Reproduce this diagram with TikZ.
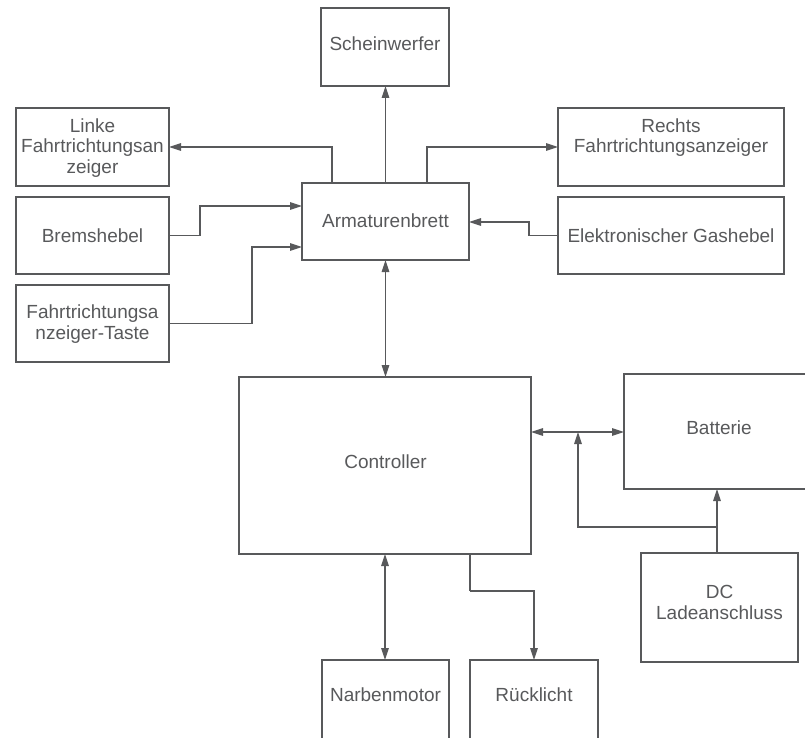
\documentclass[tikz,border=0pt]{standalone}
\usepackage{fontspec}
\setmainfont{Liberation Sans}
\usetikzlibrary{arrows.meta}
\definecolor{ink}{HTML}{58595B}
\tikzset{
  box/.style={draw=ink, line width=1.3pt, anchor=north west, inner sep=0pt, outer sep=0pt},
  lbl/.style={text=ink, align=center, inner sep=0pt, font=\fontsize{19}{20.5}\selectfont},
  conn/.style={draw=ink, line width=1.3pt},
  tip/.style={-{Triangle[length=12pt,width=7.5pt]}},
  tips/.style={{Triangle[length=12pt,width=7.5pt]}-{Triangle[length=12pt,width=7.5pt]}}
}
\begin{document}
\begin{tikzpicture}[x=1pt,y=-1pt]
\useasboundingbox (0,0) rectangle (805,738);
\clip (0,0) rectangle (805,738);
% boxes
\node[box, minimum width=128pt, minimum height=78pt] (schein) at (321,8) {};
\node[box, minimum width=167pt, minimum height=77pt] (arma) at (302,183) {};
\node[box, minimum width=153pt, minimum height=78pt] (linke) at (16,108) {};
\node[box, minimum width=153pt, minimum height=77pt] (brems) at (16,197) {};
\node[box, minimum width=153pt, minimum height=77pt] (taste) at (16,285) {};
\node[box, minimum width=226pt, minimum height=78pt] (rechts) at (558,108) {};
\node[box, minimum width=226pt, minimum height=77pt] (gas) at (558,197) {};
\node[box, minimum width=292pt, minimum height=177pt] (ctrl) at (239,377) {};
\node[box, minimum width=190pt, minimum height=115pt] (batt) at (624,374) {};
\node[box, minimum width=157pt, minimum height=109pt] (dc) at (641,553) {};
\node[box, minimum width=127pt, minimum height=110pt] (narb) at (322,660) {};
\node[box, minimum width=128pt, minimum height=110pt] (rueck) at (470,660) {};
% labels
\node[lbl] (schein-t) at (385,44) {Scheinwerfer};
\node[lbl] (arma-t) at (385.5,221) {Armaturenbrett};
\node[lbl] (linke-t) at (92.5,148) {Linke\\Fahrtrichtungsan\\zeiger};
\node[lbl] (brems-t) at (92.5,236) {Bremshebel};
\node[lbl] (taste-t) at (92.5,324) {Fahrtrichtungsa\\nzeiger-Taste};
\node[lbl] (rechts-t) at (671,137.5) {Rechts\\Fahrtrichtungsanzeiger};
\node[lbl] (gas-t) at (671,236) {Elektronischer Gashebel};
\node[lbl] (ctrl-t) at (385.5,462) {Controller};
\node[lbl] (batt-t) at (719,428) {Batterie};
\node[lbl] (dc-t) at (719.5,602.5) {DC\\Ladeanschluss};
\node[lbl] (narb-t) at (385.5,695) {Narbenmotor};
\node[lbl] (rueck-t) at (534,695) {Rücklicht};
% helper coordinates
\coordinate (aL) at (332,183);
\coordinate (aR) at (427,183);
\coordinate (j) at (717,527);
\coordinate (rk) at (470,591);
% connectors
\draw[conn,tip] (aL) |- (linke.east);
\draw[conn,tip] (arma.north) -- (arma.north |- schein.south);
\draw[conn,tip] (aR) |- (rechts.west);
\draw[conn,tip] (brems.east) -- ++(31,0) |- (arma.west |- 0,206);
\draw[conn,tip] (taste.east) -- ++(83,0) |- (arma.west |- 0,247);
\draw[conn,tip] (gas.west) -- ++(-29,0) |- (arma.east |- 0,222);
\draw[conn,tips] (arma.south) -- (arma.south |- ctrl.north);
\draw[conn,tips] (ctrl.east |- 0,432) -- (batt.west |- 0,432);
\draw[conn,tip] (717,0 |- dc.north) -- (717,0 |- batt.south);
\draw[conn,tip] (j) -| (578,432);
\draw[conn,tips] (ctrl.south) -- (ctrl.south |- narb.north);
\draw[conn] (470,0 |- ctrl.south) -- (rk);
\draw[conn,tip] (rk) -| (rueck.north);
\end{tikzpicture}
\end{document}
